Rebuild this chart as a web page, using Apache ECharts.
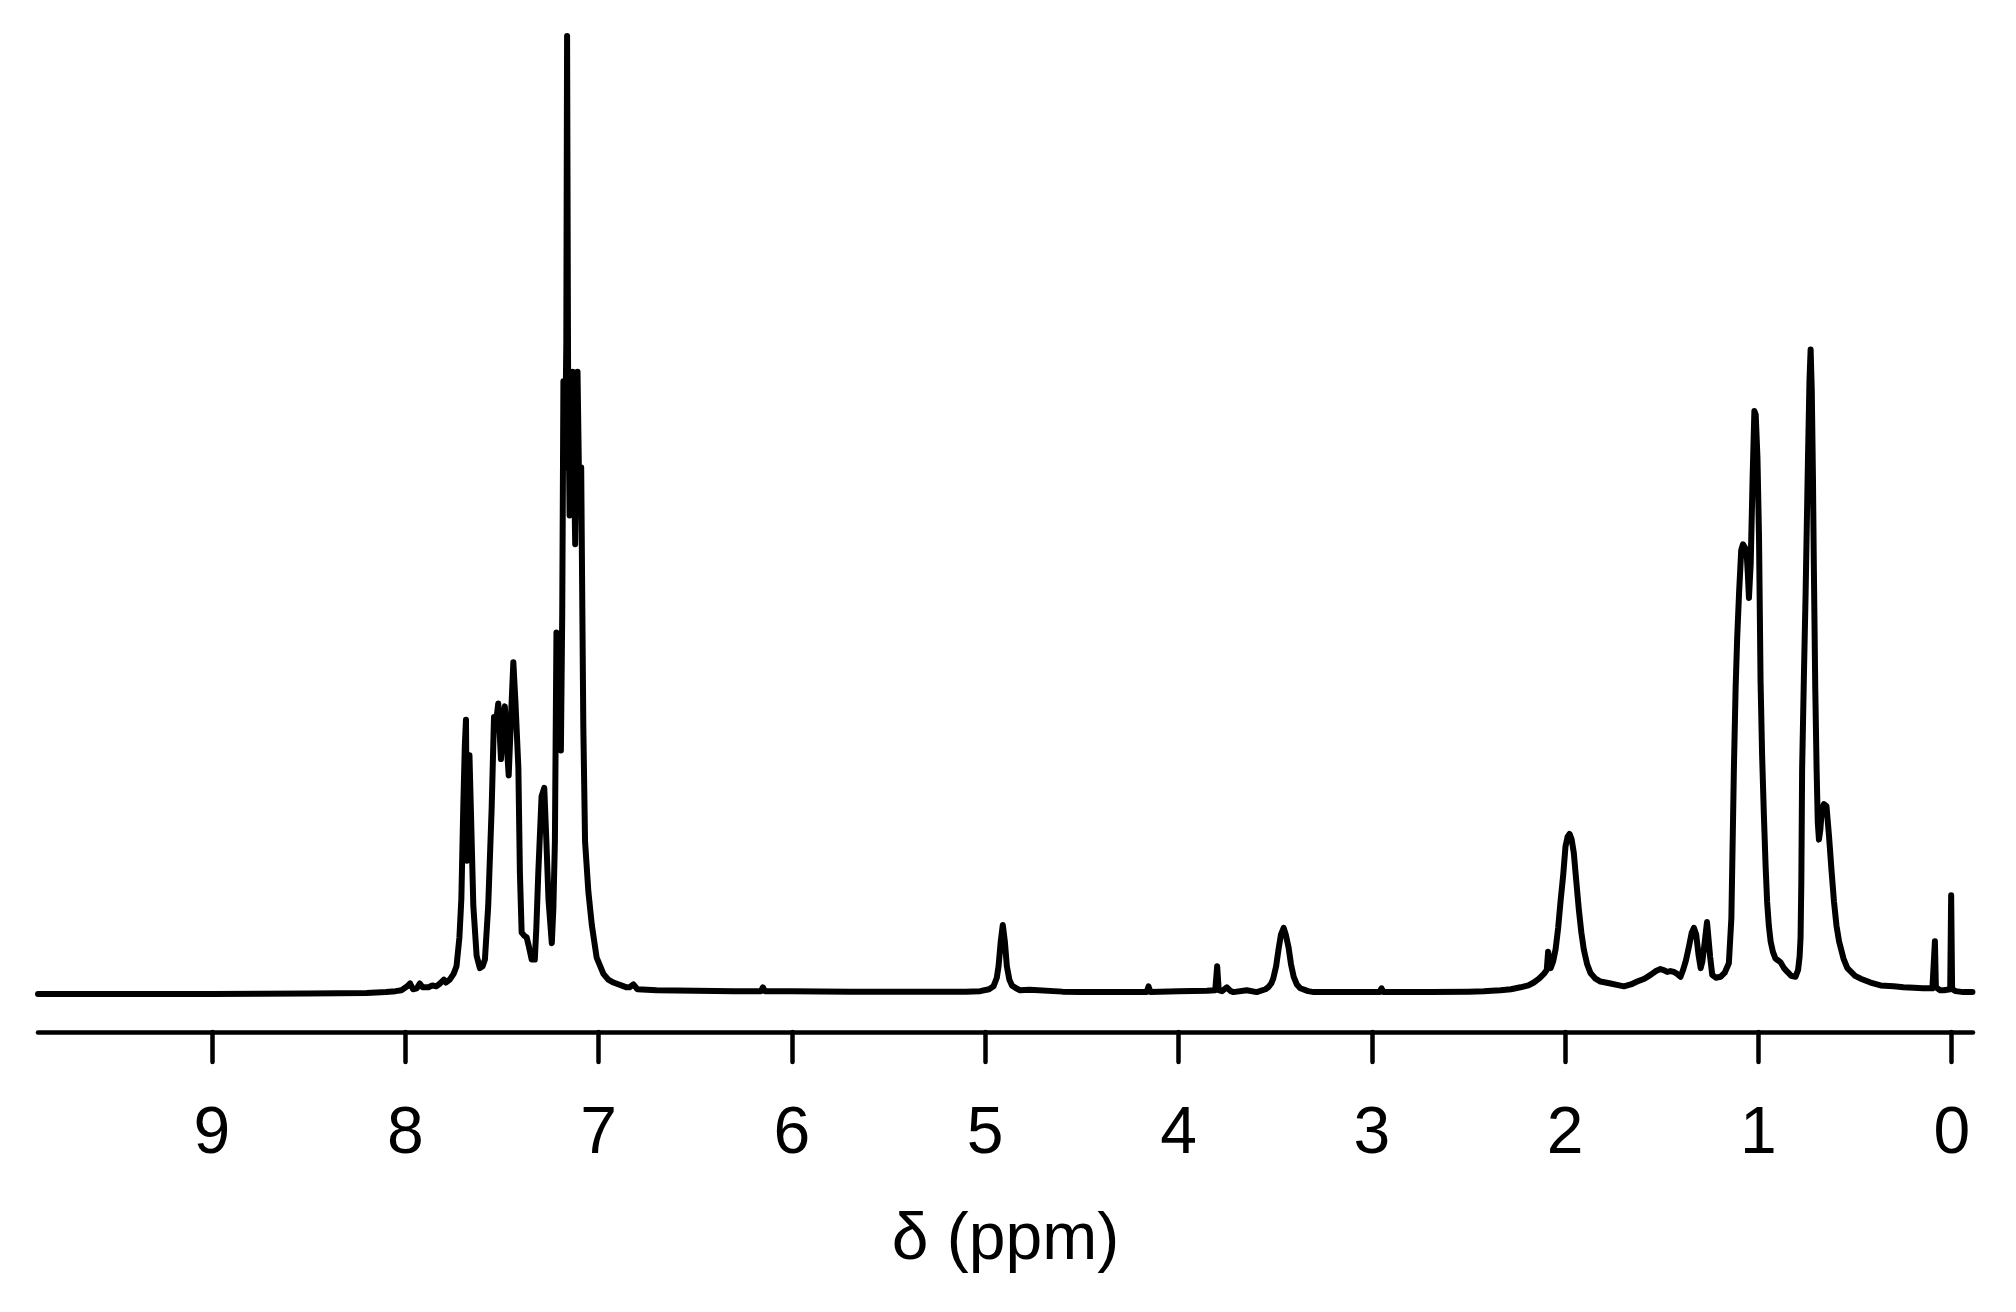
<!DOCTYPE html>
<html>
<head>
<meta charset="utf-8">
<title>NMR</title>
<script src="https://cdn.jsdelivr.net/npm/echarts@6/dist/echarts.min.js"></script>
<style>
  html, body { margin: 0; padding: 0; background: #fff; }
  #nmr { width: 2016px; height: 1312px; }
</style>
</head>
<body>
<div id="nmr"></div>
<script>
  // chemical shift (ppm), high -> low
  var shift = [
    // empty region
    9.90, 9.50, 9.00, 8.50, 8.20, 8.10,
    // aromatic, 8.05 - 7.60
    8.05, 8.02, 7.99, 7.975, 7.96, 7.94, 7.925, 7.91, 7.88, 7.86,
    7.84, 7.82, 7.80, 7.79, 7.77, 7.75, 7.735, 7.72, 7.71, 7.70,
    7.692, 7.686, 7.681, 7.675, 7.668, 7.661, 7.648, 7.631, 7.614, 7.600,
    // 7.59 - 7.24
    7.588, 7.571, 7.553, 7.541, 7.53, 7.519, 7.505, 7.495, 7.485, 7.475,
    7.465, 7.452, 7.441, 7.43, 7.415, 7.407, 7.398, 7.385, 7.372, 7.36,
    7.346, 7.33, 7.322, 7.312, 7.295, 7.281, 7.27, 7.259, 7.242,
    // big multiplet 7.23 - 6.80
    7.234, 7.226, 7.218, 7.21, 7.203, 7.195, 7.188, 7.182, 7.174, 7.167,
    7.163, 7.158, 7.150, 7.141, 7.134, 7.127, 7.121, 7.115, 7.109, 7.102,
    7.095, 7.090, 7.084, 7.079, 7.07, 7.053, 7.035, 7.01, 6.975, 6.95,
    6.923, 6.855, 6.84, 6.82, 6.80,
    // 6.7 - 2.38
    6.70, 6.50, 6.30, 6.16, 6.15, 6.14, 6.00, 5.70, 5.40, 5.10,
    5.026, 4.98, 4.957, 4.94, 4.931, 4.92, 4.909, 4.898, 4.888, 4.875,
    4.862, 4.84, 4.82, 4.77, 4.60, 4.50, 4.30, 4.165, 4.155, 4.145,
    4.00, 3.853, 3.81, 3.80, 3.792, 3.775, 3.75, 3.73, 3.716, 3.647,
    3.596, 3.55, 3.536, 3.52, 3.51, 3.495, 3.483, 3.47, 3.456, 3.445,
    3.431, 3.418, 3.404, 3.388, 3.370, 3.33, 3.30, 3.10, 2.96, 2.95,
    2.94, 2.70, 2.50, 2.42, 2.41, 2.38,
    // 2.33 - 1.15
    2.334, 2.28, 2.231, 2.19, 2.162, 2.135, 2.110, 2.095, 2.088, 2.082,
    2.075, 2.062, 2.049, 2.036, 2.023, 2.010, 1.998, 1.987, 1.977, 1.966,
    1.955, 1.942, 1.929, 1.916, 1.903, 1.886, 1.869, 1.843, 1.817, 1.765,
    1.72, 1.696, 1.66, 1.627, 1.59, 1.558, 1.53, 1.507, 1.49, 1.472,
    1.455, 1.438, 1.42, 1.403, 1.39, 1.375, 1.36, 1.345, 1.334, 1.322,
    1.31, 1.299, 1.29, 1.278, 1.266, 1.258, 1.25, 1.239, 1.22, 1.196,
    1.175, 1.153,
    // 1.14 - -0.11
    1.14, 1.127, 1.118, 1.110, 1.10, 1.089, 1.08, 1.07, 1.062, 1.055,
    1.049, 1.04, 1.03, 1.021, 1.014, 1.005, 0.997, 0.989, 0.981, 0.972,
    0.963, 0.955, 0.946, 0.937, 0.925, 0.912, 0.898, 0.885, 0.868, 0.850,
    0.83, 0.808, 0.795, 0.787, 0.782, 0.778, 0.774, 0.765, 0.756, 0.744,
    0.736, 0.730, 0.724, 0.718, 0.713, 0.706, 0.699, 0.693, 0.687, 0.68,
    0.672, 0.661, 0.648, 0.635, 0.622, 0.609, 0.596, 0.583, 0.56, 0.540,
    0.50, 0.471, 0.42, 0.368, 0.30, 0.25, 0.195, 0.15, 0.100, 0.092,
    0.087, 0.082, 0.06, 0.040, 0.008, 0.003, -0.002, -0.02, -0.06, -0.107
  ];
  // intensity, tallest line = 100
  var intensity = [
    0.1, 0.1, 0.1, 0.15, 0.2, 0.3,

    0.4, 0.5, 0.9, 1.2, 0.6, 0.7, 1.2, 0.8, 0.8, 1.0,
    0.9, 1.2, 1.6, 1.3, 1.6, 2.2, 3.0, 6, 10, 19.6,
    26, 28.7, 14, 22, 25, 19.6, 9.3, 4.1, 2.8, 3.0,

    3.7, 9.3, 19.6, 29, 28.5, 30.4, 24.6, 29, 30.1, 26,
    22.9, 29.5, 34.7, 30.5, 23.7, 12.7, 6.5, 6.2, 6.0, 5.0,
    3.7, 3.7, 7, 12.7, 20.7, 21.6, 16, 9.9, 5.4,

    9, 16, 37.8, 37, 33, 25.5, 40, 64, 55, 68,
    100, 66, 50, 56, 65, 55, 47, 56, 65, 55,
    52, 55, 40, 28, 16, 10.8, 7.3, 3.9, 2.2, 1.6,
    1.3, 0.8, 0.8, 1.1, 0.6,

    0.5, 0.45, 0.4, 0.4, 0.8, 0.4, 0.4, 0.35, 0.35, 0.35,
    0.4, 0.6, 0.9, 1.8, 3.0, 5.5, 7.3, 5.5, 3.0, 1.6,
    1.0, 0.7, 0.5, 0.55, 0.35, 0.3, 0.3, 0.3, 0.9, 0.3,
    0.4, 0.45, 0.5, 3.0, 0.5, 0.4, 0.8, 0.4, 0.3, 0.5,
    0.3, 0.6, 0.8, 1.2, 1.7, 3.0, 4.7, 6.3, 7.0, 6.3,
    5.0, 3.2, 1.9, 1.1, 0.7, 0.4, 0.3, 0.3, 0.3, 0.7,
    0.3, 0.3, 0.35, 0.4, 0.6, 0.45,

    0.5, 0.6, 0.8, 1.0, 1.3, 1.7, 2.2, 2.6, 4.5, 4.5,
    2.8, 3.5, 4.8, 7, 9.9, 12.5, 15.5, 16.5, 16.8, 16.2,
    14.8, 11.8, 8.9, 6.5, 4.7, 3.2, 2.3, 1.7, 1.4, 1.2,
    1.0, 0.9, 1.1, 1.4, 1.7, 2.1, 2.5, 2.7, 2.6, 2.4,
    2.5, 2.4, 2.2, 1.9, 2.6, 3.6, 5, 6.5, 7.0, 6.3,
    4.2, 2.8, 3.5, 5.5, 7.6, 7.4, 4, 2.1, 1.8, 1.9,
    2.3, 3.3,

    8, 23.5, 32, 37.2, 42, 46.4, 47, 46.8, 46.4, 44,
    41.4, 45, 54, 60.9, 60.5, 56, 47.8, 32.7, 25, 18.9,
    13.5, 9.7, 7.2, 5.6, 4.5, 3.8, 3.6, 3.4, 2.8, 2.4,
    2.0, 1.9, 2.6, 4, 6, 12, 23.5, 33, 41.8, 55.6,
    64, 67.3, 63, 54, 44.1, 32, 23.5, 18, 16.2, 17.2,
    19.3, 19.9, 19.7, 16.6, 13, 9.7, 7.2, 5.6, 3.8, 2.8,
    2.0, 1.7, 1.3, 1.0, 0.9, 0.8, 0.75, 0.7, 0.7, 0.8,
    5.6, 0.8, 0.5, 0.5, 0.6, 10.4, 0.6, 0.4, 0.3, 0.3
  ];
  var tickValues = [0, 1, 2, 3, 4, 5, 6, 7, 8, 9];
  var axisTitle = 'δ (ppm)';

  var points = [];
  for (var i = 0; i < shift.length; i++) {
    points.push([shift[i], intensity[i]]);
  }

  var font = 'Liberation Sans, Arial, sans-serif';
  var myChart = echarts.init(document.getElementById('nmr'));
  var option = {
    animation: false,
    backgroundColor: '#fff',
    grid: { left: 38, right: 43, top: 36, bottom: 280 },
    xAxis: {
      type: 'value',
      inverse: true,
      min: -0.11,
      max: 9.9,
      name: axisTitle,
      nameLocation: 'middle',
      nameGap: 176,
      nameTextStyle: { color: '#000', fontSize: 66, fontFamily: font },
      axisLine: { onZero: false, lineStyle: { color: '#000', width: 4.5, cap: 'round' } },
      axisTick: { customValues: tickValues, length: 30, lineStyle: { color: '#000', width: 4.5, cap: 'round' } },
      axisLabel: { customValues: tickValues, margin: 70, color: '#000', fontSize: 66, fontFamily: font },
      splitLine: { show: false }
    },
    yAxis: {
      type: 'value',
      min: -3.86,
      max: 100,
      show: false
    },
    series: [
      {
        type: 'line',
        data: points,
        showSymbol: false,
        clip: false,
        lineStyle: { color: '#000', width: 6, join: 'round', cap: 'round' }
      }
    ]
  };
  myChart.setOption(option);
</script>
</body>
</html>
